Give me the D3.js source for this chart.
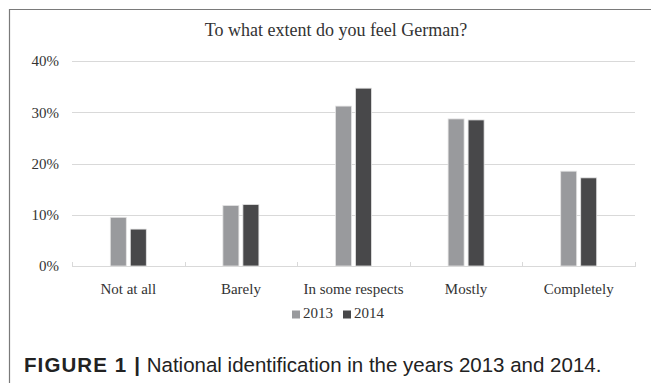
<!DOCTYPE html>
<html>
<head>
<meta charset="utf-8">
<script src="https://cdn.jsdelivr.net/npm/d3@7"></script>
<style>
  html, body { margin: 0; padding: 0; background: #fff; }
  svg { display: block; }
</style>
</head>
<body>
<svg id="chart" width="651" height="383"></svg>
<script>
const categories = ["Not at all", "Barely", "In some respects", "Mostly", "Completely"];
const seriesNames = ["2013", "2014"];
const values2013 = [9.5, 11.8, 31.2, 28.7, 18.5];
const values2014 = [7.2, 12.0, 34.7, 28.5, 17.2];
const yTicks = [0, 10, 20, 30, 40];
const seriesColors = ["#999a9d", "#48484a"];
const titleText = "To what extent do you feel German?";
const captionBold = "FIGURE 1 |";
const captionText = " National identification in the years 2013 and 2014.";

const svg = d3.select("#chart");
const serif = "'Liberation Serif', 'Times New Roman', serif";
const sans = "'Liberation Sans', Arial, sans-serif";

// outer frame (top and left edges visible)
svg.append("line").attr("x1", 9).attr("x2", 651).attr("y1", 9.5).attr("y2", 9.5)
  .attr("stroke", "#7a7a7a").attr("stroke-width", 1.2);
svg.append("line").attr("x1", 9.5).attr("x2", 9.5).attr("y1", 9).attr("y2", 383)
  .attr("stroke", "#7a7a7a").attr("stroke-width", 1.2);

const x0 = d3.scaleBand().domain(categories).range([72, 635]).paddingInner(0).paddingOuter(0);
const x1 = d3.scaleBand().domain(seriesNames).range([x0.bandwidth()/2 - 18, x0.bandwidth()/2 + 18]).paddingInner(0.2);
const y = d3.scaleLinear().domain([0, 40]).range([266, 61]);

// gridlines
svg.append("g").selectAll("line").data(yTicks.filter(d => d > 0)).join("line")
  .attr("x1", 72).attr("x2", 635)
  .attr("y1", d => Math.round(y(d)) + 0.5).attr("y2", d => Math.round(y(d)) + 0.5)
  .attr("stroke", "#d9d9d9").attr("stroke-width", 1);

// y tick labels
svg.append("g").selectAll("text").data(yTicks).join("text")
  .attr("x", 59).attr("y", d => y(d)).attr("dy", "0.35em")
  .attr("text-anchor", "end")
  .attr("font-family", serif).attr("font-size", 15).attr("fill", "#333")
  .text(d => d + "%");

// bars
const data = categories.map((c, i) => ({ cat: c, vals: [values2013[i], values2014[i]] }));
const groups = svg.append("g").selectAll("g").data(data).join("g")
  .attr("transform", d => `translate(${x0(d.cat)},0)`);
groups.selectAll("rect").data(d => d.vals.map((v, j) => ({ v, s: seriesNames[j], j }))).join("rect")
  .attr("x", d => x1(d.s)).attr("width", x1.bandwidth())
  .attr("y", d => y(d.v)).attr("height", d => y(0) - y(d.v))
  .attr("fill", d => seriesColors[d.j])
  .attr("stroke", "#e4e4e4").attr("stroke-width", 0.8);

// x axis baseline with boundary ticks
svg.append("line").attr("x1", 72).attr("x2", 635).attr("y1", 266.5).attr("y2", 266.5)
  .attr("stroke", "#d9d9d9");
const bounds = categories.map(c => x0(c)).concat([635]);
svg.append("g").selectAll("line").data(bounds).join("line")
  .attr("x1", d => Math.round(d) + 0.5).attr("x2", d => Math.round(d) + 0.5)
  .attr("y1", 262).attr("y2", 267)
  .attr("stroke", "#d9d9d9");

// category labels
svg.append("g").selectAll("text").data(categories).join("text")
  .attr("x", d => x0(d) + x0.bandwidth()/2).attr("y", 294)
  .attr("text-anchor", "middle")
  .attr("font-family", serif).attr("font-size", 15).attr("fill", "#333")
  .text(d => d);

// title
svg.append("text").attr("x", 336).attr("y", 36).attr("text-anchor", "middle")
  .attr("font-family", serif).attr("font-size", 18).attr("fill", "#333")
  .text(titleText);

// legend
const legendX = [292, 343];
const lg = svg.append("g").selectAll("g").data(seriesNames).join("g")
  .attr("transform", (d, i) => `translate(${legendX[i]},0)`);
lg.append("rect").attr("x", 0).attr("y", 310.5).attr("width", 8).attr("height", 8)
  .attr("fill", (d, i) => seriesColors[i]);
lg.append("text").attr("x", 11).attr("y", 318)
  .attr("font-family", serif).attr("font-size", 15).attr("fill", "#333")
  .text(d => d);

// caption
const cap = svg.append("text").attr("x", 24).attr("y", 372)
  .attr("font-family", sans).attr("font-size", 20.5).attr("fill", "#222");
cap.append("tspan").attr("font-weight", "bold").attr("letter-spacing", 1.1).text(captionBold);
cap.append("tspan").text(captionText);
</script>
</body>
</html>
